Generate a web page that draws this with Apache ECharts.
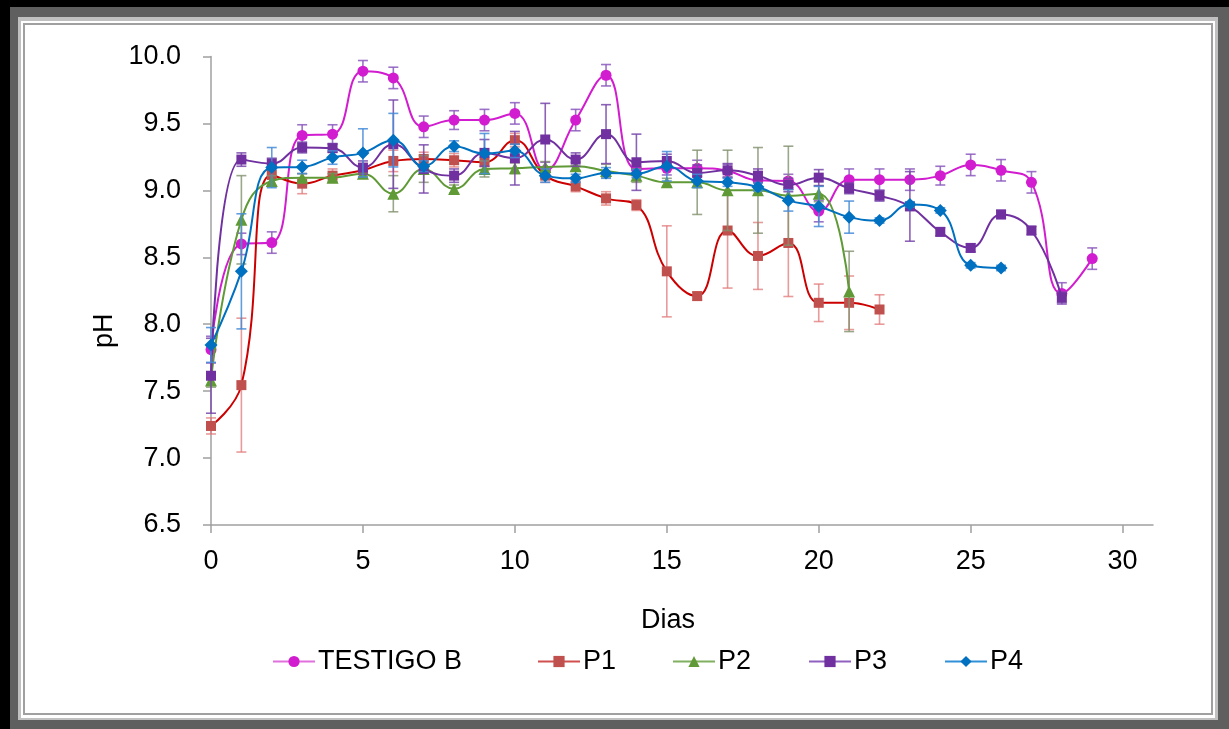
<!DOCTYPE html>
<html>
<head>
<meta charset="utf-8">
<script src="https://cdn.jsdelivr.net/npm/echarts@6/dist/echarts.min.js"></script>
<style>
  html, body { margin: 0; padding: 0; width: 1229px; height: 729px; overflow: hidden; background: #000; }
  .f1 { position: absolute; left: 10px; top: 7px; width: 1219px; height: 722px; background: #5f5f5f; }
  .f2 { position: absolute; left: 18px; top: 17px; width: 1200px; height: 703px; background: #c0c0c0; }
  .f3 { position: absolute; left: 21px; top: 21px; width: 1194px; height: 697px; background: #fff; }
  .f4 { position: absolute; left: 23px; top: 23px; width: 1186px; height: 688px; border: 2px solid #a0a0a0; background: #fff; }
  #chart { position: absolute; left: 0; top: 0; width: 1229px; height: 729px; }
</style>
</head>
<body>
<div class="f1"></div><div class="f2"></div><div class="f3"></div><div class="f4"></div>
<div id="chart"></div>
<script>
// ---- data (day index = position in array, starting at day 0) ----
const dias = [0,1,2,3,4,5,6,7,8,9,10,11,12,13,14,15,16,17,18,19,20,21,22,23,24,25,26,27,28,29];
const xTicks = [0, 5, 10, 15, 20, 25, 30];
const seriesNames = ['TESTIGO B', 'P1', 'P2', 'P3', 'P4'];

const testigoB = [7.81,8.60,8.61,9.41,9.42,9.89,9.84,9.475,9.525,9.525,9.575,9.15,9.525,9.86,9.16,9.165,9.165,9.145,9.075,9.07,8.845,9.08,9.08,9.08,9.11,9.19,9.15,9.06,8.23,8.49];
const testigoBErr = [0.10,0.08,0.08,0.08,0.07,0.08,0.08,0.08,0.07,0.08,0.08,0.06,0.08,0.08,0.05,0.05,0.06,0.05,0.06,0.05,0.08,0.08,0.08,0.08,0.07,0.08,0.08,0.08,0.08,0.08];

const p1 = [7.24,7.545,9.115,9.05,9.11,9.15,9.22,9.235,9.225,9.21,9.375,9.11,9.03,8.94,8.89,8.395,8.21,8.70,8.51,8.607,8.16,8.16,8.11];
const p1Err = [0.06,0.50,0.08,0.075,0.05,0.05,0.08,0.05,0.05,0.06,0.05,0.05,0.04,0.05,0.04,0.34,0.03,0.43,0.25,0.40,0.14,0.20,0.11];

const p2 = [7.58,8.78,9.07,9.095,9.095,9.125,8.975,9.16,9.01,9.16,9.165,9.175,9.18,9.145,9.11,9.06,9.06,9.0,9.0,8.96,8.975,8.245];
const p2Err = [0.05,0.33,0.04,0.03,0.03,0.03,0.135,0.10,0.03,0.06,0.04,0.04,0.03,0.05,0.05,0.03,0.24,0.30,0.32,0.37,0.06,0.30];

const p3 = [7.615,9.23,9.20,9.32,9.315,9.17,9.345,9.16,9.11,9.28,9.24,9.38,9.23,9.42,9.21,9.22,9.13,9.15,9.11,9.04,9.095,9.015,8.96,8.88,8.69,8.57,8.82,8.70,8.20];
const p3Err = [0.28,0.05,0.04,0.04,0.03,0.05,0.33,0.18,0.05,0.10,0.20,0.27,0.05,0.22,0.21,0.05,0.06,0.05,0.05,0.05,0.06,0.04,0.04,0.26,0.03,0.03,0.03,0.03,0.04];

const p4 = [7.845,8.395,9.17,9.175,9.245,9.28,9.375,9.18,9.33,9.275,9.295,9.11,9.09,9.13,9.125,9.18,9.07,9.06,9.025,8.925,8.88,8.80,8.775,8.895,8.85,8.44,8.42];
const p4Err = [0.13,0.43,0.15,0.05,0.05,0.18,0.20,0.04,0.04,0.15,0.05,0.05,0.03,0.04,0.03,0.11,0.05,0.03,0.03,0.08,0.15,0.12,0.02,0.02,0.02,0.02,0.02];

// ---- styling ----
const FONT = "'Liberation Sans', Arial, sans-serif";
const lineColors   = ['#D21CCF', '#CC0000', '#5F9A36', '#7030A0', '#0070C0'];
const markerColors = ['#D21CCF', '#C0504D', '#5F9A36', '#7030A0', '#0070C0'];
const legendLineColors = ['#E070DC', '#D05050', '#80B060', '#9060C0', '#3090D8'];
const errColors    = ['rgba(140,90,190,0.85)', 'rgba(225,120,120,0.75)', 'rgba(130,145,110,0.8)', 'rgba(120,70,170,0.85)', 'rgba(70,140,215,0.85)'];
const symbols = ['circle', 'rect', 'triangle', 'rect', 'diamond'];
const symbolSizes = [11, 10, 12, 10, 13];
const legendLeft = [272, 537, 672, 808, 944];

const values = [testigoB, p1, p2, p3, p4];
const errs = [testigoBErr, p1Err, p2Err, p3Err, p4Err];

const series = [];
values.forEach((vals, i) => {
  const pts = vals.map((v, k) => [dias[k], v]);
  const errPts = vals.map((v, k) => [dias[k], v, errs[i][k]]);
  series.push({
    type: 'custom',
    name: seriesNames[i] + ' error',
    data: errPts,
    z: 1 + i * 2,
    silent: true,
    renderItem: function (params, api) {
      const x = api.value(0), y = api.value(1), e = api.value(2);
      const top = api.coord([x, y + e]);
      const bot = api.coord([x, y - e]);
      const hw = 5;
      const st = { stroke: errColors[i], lineWidth: 1.6 };
      return {
        type: 'group',
        children: [
          { type: 'line', shape: { x1: top[0], y1: top[1], x2: bot[0], y2: bot[1] }, style: st },
          { type: 'line', shape: { x1: top[0] - hw, y1: top[1], x2: top[0] + hw, y2: top[1] }, style: st },
          { type: 'line', shape: { x1: bot[0] - hw, y1: bot[1], x2: bot[0] + hw, y2: bot[1] }, style: st }
        ]
      };
    }
  });
  series.push({
    type: 'line',
    name: seriesNames[i],
    data: pts,
    smooth: 0.45,
    z: 2 + i * 2,
    symbol: symbols[i],
    symbolSize: symbolSizes[i],
    showAllSymbol: true,
    lineStyle: { color: lineColors[i], width: 2 },
    itemStyle: { color: markerColors[i], borderWidth: 0 },
    emphasis: { disabled: true }
  });
});

const chart = echarts.init(document.getElementById('chart'), null, { renderer: 'canvas' });
chart.setOption({
  animation: false,
  backgroundColor: 'transparent',
  grid: { left: 211, right: 76, top: 56.5, bottom: 204, containLabel: false },
  xAxis: {
    type: 'value', min: 0, max: 31, interval: 5,
    name: 'Dias', nameLocation: 'middle', nameGap: 82,
    nameTextStyle: { fontSize: 27, color: '#000', fontFamily: FONT, padding: [0, 28, 0, 0] },
    axisLine: { show: true, lineStyle: { color: '#a0a0a0', width: 1.5 } },
    axisTick: { show: true, inside: false, length: 8, lineStyle: { color: '#a0a0a0', width: 1.5 }, customValues: xTicks },
    axisLabel: { fontSize: 27, color: '#000', fontFamily: FONT, margin: 23, customValues: xTicks },
    splitLine: { show: false }
  },
  yAxis: {
    type: 'value', min: 6.5, max: 10, interval: 0.5,
    name: 'pH', nameLocation: 'middle', nameGap: 92, nameRotate: 90,
    nameTextStyle: { fontSize: 27, color: '#000', fontFamily: FONT, padding: [0, 80, 0, 0] },
    axisLine: { show: true, lineStyle: { color: '#a0a0a0', width: 1.5 } },
    axisTick: { show: true, inside: false, length: 8, lineStyle: { color: '#a0a0a0', width: 1.5 } },
    axisLabel: { fontSize: 27, color: '#000', fontFamily: FONT, margin: 30, formatter: v => v.toFixed(1) },
    splitLine: { show: false }
  },
  legend: seriesNames.map((n, i) => ({
    data: [n], left: legendLeft[i], top: 648, padding: 0, itemGap: 0,
    itemWidth: 42, itemHeight: 14,
    selectedMode: false,
    lineStyle: { color: legendLineColors[i] },
    textStyle: { fontSize: 27, color: '#000', fontFamily: FONT, padding: [0, 0, 0, -2] }
  })),
  series: series
});
</script>
</body>
</html>
